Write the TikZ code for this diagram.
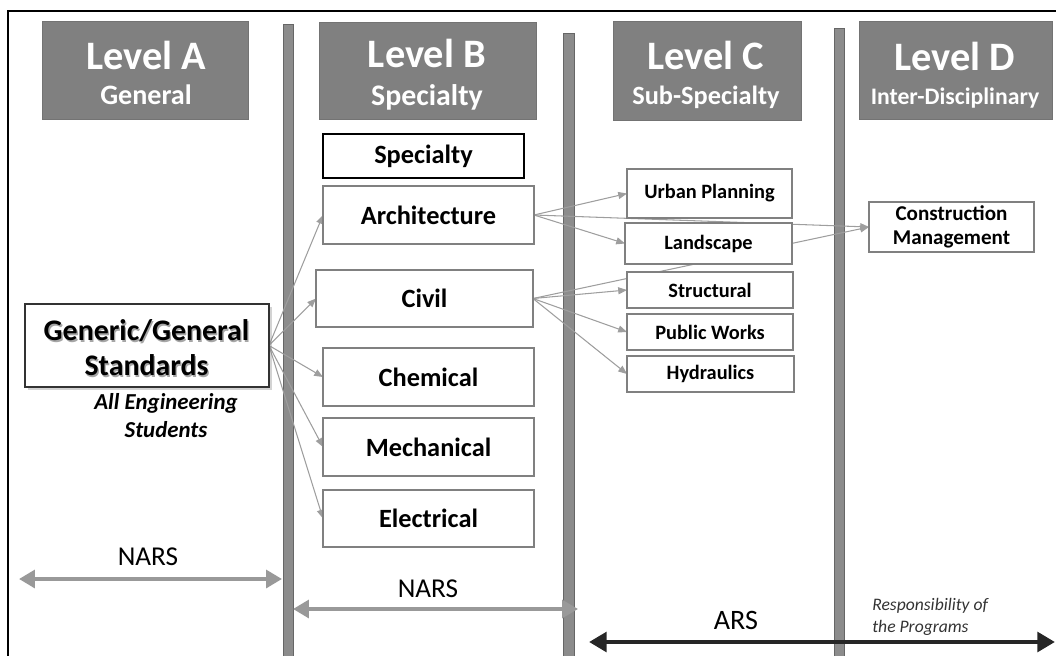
\documentclass[tikz,border=0pt]{standalone}
\usepackage{fontspec}
\setmainfont{Carlito}
\usetikzlibrary{arrows.meta,shadows,backgrounds}
\begin{document}
\begin{tikzpicture}[x=0.02cm,y=-0.02cm,
	hdbox/.style={fill=black!50,draw=black!55,inner sep=0pt,outer sep=0pt},
	hdtitle/.style={text=white,font=\fontsize{23}{26}\selectfont\bfseries,anchor=base},
	hdsub/.style={text=white,font=\fontsize{16}{18}\selectfont\bfseries,anchor=base},
	bbox/.style={draw=black!50,line width=0.8pt,fill=white,inner sep=0pt,outer sep=0pt,
		font=\fontsize{15}{18}\selectfont\bfseries,minimum width=4.22cm,minimum height=1.16cm},
	cbox/.style={draw=black!50,line width=0.8pt,fill=white,inner sep=0pt,outer sep=0pt,
		font=\fontsize{11.6}{14}\selectfont\bfseries,minimum width=3.32cm,minimum height=0.72cm},
	bar/.style={fill=black!45,draw=black!60,line width=0.4pt},
	conn/.style={draw=black!38,line width=0.6pt,-{Triangle[length=5pt,width=4pt]}},
	nars/.style={draw=black!40,line width=2.4pt,{Triangle[length=9pt,width=10pt]}-{Triangle[length=9pt,width=10pt]}},
	ars/.style={draw=black!85,line width=2.8pt,{Triangle[length=10pt,width=11pt]}-{Triangle[length=10pt,width=11pt]}},
	]
	\useasboundingbox (0,0) rectangle (1056,656);
	\draw[line width=1.1pt] (8,660) -- (8,11) -- (1060,11);
	%
	% separating bars
	\begin{scope}[on background layer]
		\filldraw[bar] (283,24) rectangle (293,660);
		\filldraw[bar] (563,33) rectangle (574,660);
		\filldraw[bar] (834,28) rectangle (844,660);
	\end{scope}
	%
	% headers
	\node[hdbox,minimum width=4.12cm,minimum height=1.96cm] (hdA) at (145,70) {};
	\node[hdtitle] (tA) at (146,69) {Level A};
	\node[hdsub] (sA) at (146,104) {General};
	\node[hdbox,minimum width=4.34cm,minimum height=1.94cm] (hdB) at (427.5,70.5) {};
	\node[hdtitle] (tB) at (427,67) {Level B};
	\node[hdsub,font=\fontsize{17}{19}\selectfont\bfseries] (sB) at (427,105) {Specialty};
	\node[hdbox,minimum width=3.76cm,minimum height=1.98cm] (hdC) at (707,70.5) {};
	\node[hdtitle] (tC) at (706,69) {Level C};
	\node[hdsub,font=\fontsize{15}{17}\selectfont\bfseries] (sC) at (706,104) {Sub-Specialty};
	\node[hdbox,minimum width=3.86cm,minimum height=1.96cm] (hdD) at (955.5,70) {};
	\node[hdtitle] (tD) at (955,70) {Level D};
	\node[hdsub,font=\fontsize{13.5}{16}\selectfont\bfseries] (sD) at (955,104) {Inter-Disciplinary};
	%
	% level A
	\node[draw=black!80,line width=0.9pt,fill=white,minimum width=4.88cm,minimum height=1.66cm,
		inner sep=0pt,outer sep=0pt,drop shadow={opacity=0.35,shadow xshift=1.5pt,shadow yshift=-1.5pt}] (gen) at (147,345.5) {};
	\node[align=center,font=\fontsize{17}{20}\selectfont\bfseries,text=black!35] (genshd) at (147.8,349.2) {Generic/General\\Standards};
	\node[align=center,font=\fontsize{17}{20}\selectfont\bfseries] (gentxt) at (146.5,348) {Generic/General\\Standards};
	\node[align=center,font=\fontsize{13}{16}\selectfont\bfseries\itshape] (stud) at (166,416) {All Engineering\\Students};
	%
	% level B
	\node[bbox,draw=black,line width=1pt,minimum width=4.02cm,minimum height=0.88cm] (spec) at (423.5,156) {Specialty};
	\node[bbox] (arch) at (428.5,215) {Architecture};
	\node[bbox,minimum width=4.34cm,minimum height=1.14cm] (civil) at (424.5,298.5) {Civil};
	\node[bbox] (chem) at (428.5,377) {Chemical};
	\node[bbox] (mech) at (428.5,447) {Mechanical};
	\node[bbox,minimum height=1.14cm] (elec) at (428.5,518.5) {Electrical};
	%
	% level C
	\node[cbox,minimum width=3.3cm,minimum height=0.98cm] (up) at (709.5,193.5) {Urban Planning};
	\node[cbox,minimum width=3.34cm,minimum height=0.82cm] (land) at (708.5,243.5) {Landscape};
	\node[cbox] (struct) at (710,290) {Structural};
	\node[cbox] (pw) at (710,332) {Public Works};
	\node[cbox,minimum width=3.34cm] (hyd) at (710.5,374) {Hydraulics};
	%
	% level D
	\node[cbox,align=center,font=\fontsize{12}{14}\selectfont\bfseries,minimum width=3.3cm,minimum height=1cm] (cm) at (951.5,227) {Construction\\Management};
	%
	% connectors
	\begin{scope}[on background layer]
		\foreach \t in {arch,civil,chem,mech,elec}
			\draw[conn] (gen.east) -- (\t.west);
		\foreach \t in {up,land,cm}
			\draw[conn] (arch.east) -- (\t.west);
		\foreach \t in {struct,pw,hyd,cm}
			\draw[conn] (civil.east) -- (\t.west);
	\end{scope}
	%
	% regulations
	\coordinate (n1l) at (19,579);
	\coordinate (n1r) at (282,579);
	\draw[nars] (n1l) -- (n1r);
	\node[anchor=base,font=\fontsize{15.5}{18}\selectfont] (nars1) at (148,565) {NARS};
	\coordinate (n2l) at (293,609);
	\coordinate (n2r) at (578,609);
	\draw[nars] (n2l) -- (n2r);
	\node[anchor=base,font=\fontsize{15.5}{18}\selectfont] (nars2) at (428,597) {NARS};
	\coordinate (al) at (589,642);
	\coordinate (ar) at (1055,642);
	\draw[ars] (al) -- (ar);
	\node[anchor=base,font=\fontsize{16}{18}\selectfont] (ars) at (736,629) {ARS};
	\node[anchor=north west,align=left,font=\fontsize{10}{12.5}\selectfont\itshape,text=black!80,inner sep=0pt] (resp) at (872,598) {Responsibility of\\the Programs};
\end{tikzpicture}
\end{document}
